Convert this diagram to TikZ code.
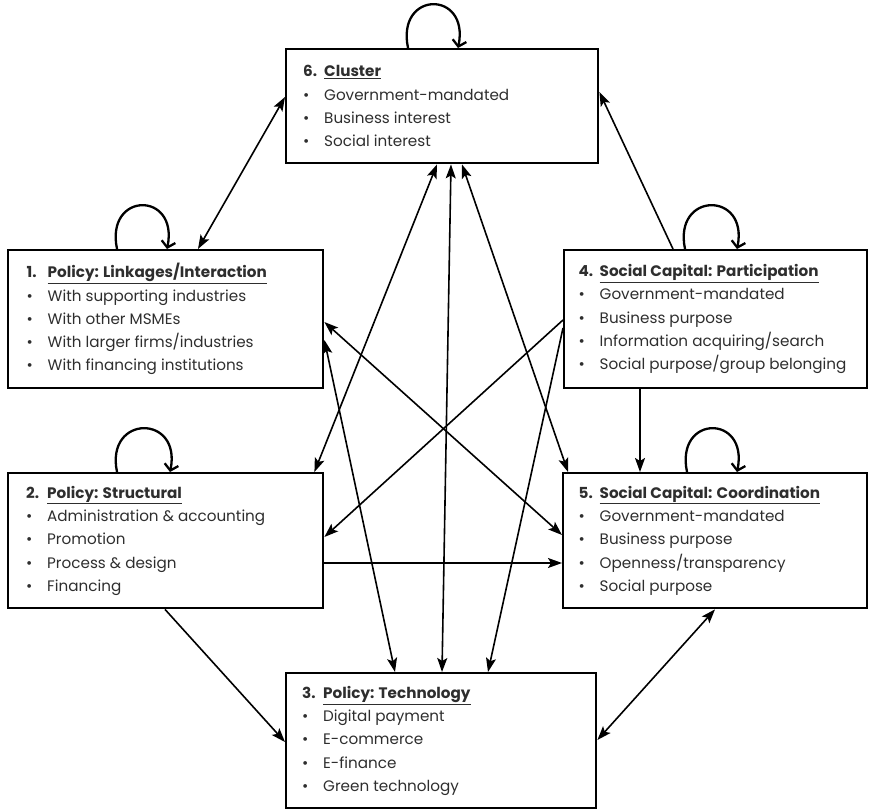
\documentclass[tikz,border=0pt]{standalone}
\usepackage{fontspec}
\setmainfont{Poppins}
\usetikzlibrary{arrows.meta,calc}

\definecolor{ink}{HTML}{2E2E2E}

% title line: number, then the underlined bold heading
\newcommand{\boxtitle}[2]{\makebox[21pt][l]{\bfseries #1}{\bfseries\underline{#2}}}
% bullet line
\newcommand{\bul}[1]{\makebox[21pt][l]{•}#1}

\begin{document}
\begin{tikzpicture}[x=1pt,y=-1pt,
  panel/.style={draw=black, line width=2.4pt, anchor=north west, align=left,
    inner xsep=0pt, inner ysep=0pt, text=ink,
    font=\fontsize{15.2}{23.3}\selectfont},
  link/.style={line width=1.6pt, -{Stealth[length=14pt,width=10pt,inset=3pt]}},
  both/.style={line width=1.6pt, {Stealth[length=14pt,width=10pt,inset=3pt]}-{Stealth[length=14pt,width=10pt,inset=3pt]}},
  selfloop/.style={line width=2.3pt, -{Straight Barb[length=6pt,width=14pt,line width=2.3pt]}}
]
\useasboundingbox (0,0) rectangle (871,810);

% ---- the six panels ----
\node[panel, minimum width=312pt, minimum height=114pt] (b6) at (285,48)
  {\hspace*{14pt}\parbox{292pt}{\boxtitle{6.}{Cluster}\\
   \bul{Government-mandated}\\ \bul{Business interest}\\ \bul{Social interest}}};

\node[panel, minimum width=315pt, minimum height=138pt] (b1) at (7,249)
  {\hspace*{16pt}\parbox{294pt}{\boxtitle{1.}{Policy: Linkages/Interaction}\\
   \bul{With supporting industries}\\ \bul{With other MSMEs}\\
   \bul{With larger firms/industries}\\ \bul{With financing institutions}}};

\node[panel, minimum width=303pt, minimum height=138pt] (b4) at (563,249)
  {\hspace*{13pt}\parbox{287pt}{\boxtitle{4.}{Social Capital: Participation}\\
   \bul{Government-mandated}\\ \bul{Business purpose}\\
   \bul{Information acquiring/search}\\ \bul{Social purpose/group belonging}}};

\node[panel, minimum width=315pt, minimum height=135pt] (b2) at (7,472)
  {\hspace*{15pt}\parbox{294pt}{\boxtitle{2.}{Policy: Structural}\\
   \bul{Administration \& accounting}\\ \bul{Promotion}\\
   \bul{Process \& design}\\ \bul{Financing}}};

\node[panel, minimum width=304pt, minimum height=135pt] (b5) at (562,472)
  {\hspace*{14pt}\parbox{287pt}{\boxtitle{5.}{Social Capital: Coordination}\\
   \bul{Government-mandated}\\ \bul{Business purpose}\\
   \bul{Openness/transparency}\\ \bul{Social purpose}}};

\node[panel, minimum width=310pt, minimum height=135pt] (b3) at (285,672)
  {\hspace*{14pt}\parbox{292pt}{\boxtitle{3.}{Policy: Technology}\\
   \bul{Digital payment}\\ \bul{E-commerce}\\
   \bul{E-finance}\\ \bul{Green technology}}};

% ---- self loops ----
\draw[selfloop] ($(b6.north west)+(123,0)$) .. controls +(-12,-58) and +(12,-58) .. ($(b6.north west)+(173,0)$);
\draw[selfloop] ($(b1.north west)+(110,0)$) .. controls +(-12,-58) and +(12,-58) .. ($(b1.north west)+(160,0)$);
\draw[selfloop] ($(b4.north west)+(122,0)$) .. controls +(-12,-58) and +(12,-58) .. ($(b4.north west)+(174,0)$);
\draw[selfloop] ($(b2.north west)+(110,0)$) .. controls +(-12,-58) and +(12,-58) .. ($(b2.north west)+(163,0)$);
\draw[selfloop] ($(b5.north west)+(125,0)$) .. controls +(-12,-58) and +(12,-58) .. ($(b5.north west)+(175,0)$);

% ---- connectors ----
\draw[both] ($(b1.north west)+(191,0)$) -- ($(b6.north west)+(0,49)$);
\draw[link] ($(b4.north west)+(110,0)$) -- ($(b6.north east)+(0,44)$);
\draw[both] ($(b6.south west)+(152,0)$) -- ($(b2.north east)+(-10,0)$);
\draw[both] ($(b6.south west)+(166,0)$) -- ($(b3.north west)+(157,0)$);
\draw[both] ($(b6.south west)+(177,0)$) -- ($(b5.north west)+(6,0)$);
\draw[both] ($(b1.north east)+(0,73)$) -- ($(b5.north west)+(0,63)$);
\draw[both] ($(b1.north east)+(0,91)$) -- ($(b3.north west)+(110,0)$);
\draw[link] ($(b4.north west)+(0,71)$) -- ($(b2.north east)+(0,65)$);
\draw[link] ($(b4.north west)+(0,79)$) -- ($(b3.north west)+(203,0)$);
\draw[link] ($(b4.south west)+(77,0)$) -- ($(b5.north west)+(78,0)$);
\draw[link] ($(b2.north east)+(0,91)$) -- ($(b5.north west)+(0,91)$);
\draw[link] ($(b2.south west)+(158,0)$) -- ($(b3.north west)+(0,70)$);
\draw[both] ($(b5.south west)+(153,0)$) -- ($(b3.north east)+(0,68)$);
\end{tikzpicture}
\end{document}
